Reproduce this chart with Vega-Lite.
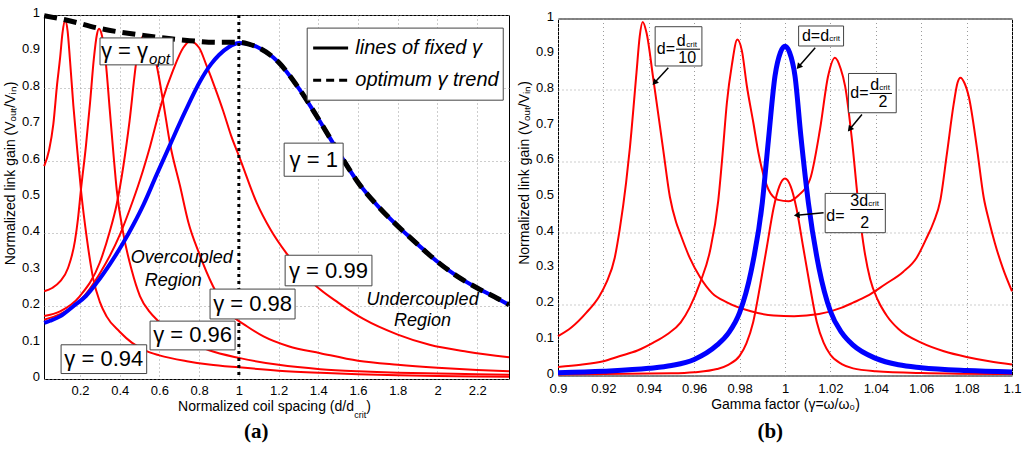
{
  "$schema": "https://vega.github.io/schema/vega-lite/v6.json",
  "padding": {"left": 2, "top": 5, "right": 2, "bottom": 5},
  "config": {
    "font": "Liberation Sans",
    "view": {"stroke": "#000", "strokeWidth": 1},
    "axis": {
      "grid": true, "gridColor": "#9a9a9a", "gridDash": [1, 3], "gridWidth": 1,
      "ticks": false, "domain": false, "labelFlush": false, "labelOverlap": false,
      "labelFontSize": 13, "labelColor": "#000", "labelPadding": 4,
      "titleFontSize": 14, "titleFontWeight": "normal", "titleColor": "#000", "titlePadding": 5
    },
    "axisX": {"titlePadding": 3, "labelPadding": 5},
    "axisY": {"labels": false, "titlePadding": 27}
  },
  "datasets": {
    "yt": [
      {"v":0,"t":"0"},{"v":0.1,"t":"0.1"},{"v":0.2,"t":"0.2"},{"v":0.3,"t":"0.3"},{"v":0.4,"t":"0.4"},{"v":0.5,"t":"0.5"},
      {"v":0.6,"t":"0.6"},{"v":0.7,"t":"0.7"},{"v":0.8,"t":"0.8"},{"v":0.9,"t":"0.9"},{"v":1,"t":"1"}
    ],
    "lc": [
      {"s":"g94","d":0.02,"g":0.585},{"s":"g94","d":0.045,"g":0.63},{"s":"g94","d":0.066,"g":0.70},{"s":"g94","d":0.085,"g":0.81},
      {"s":"g94","d":0.1,"g":0.882},{"s":"g94","d":0.112,"g":0.95},{"s":"g94","d":0.125,"g":0.987},{"s":"g94","d":0.138,"g":0.955},
      {"s":"g94","d":0.15,"g":0.875},{"s":"g94","d":0.167,"g":0.75},{"s":"g94","d":0.188,"g":0.62},{"s":"g94","d":0.205,"g":0.52},
      {"s":"g94","d":0.235,"g":0.385},{"s":"g94","d":0.267,"g":0.275},{"s":"g94","d":0.3,"g":0.212},{"s":"g94","d":0.334,"g":0.172},
      {"s":"g94","d":0.4,"g":0.13},{"s":"g94","d":0.461,"g":0.1},{"s":"g94","d":0.53,"g":0.078},{"s":"g94","d":0.6,"g":0.065},
      {"s":"g94","d":0.738,"g":0.049},{"s":"g94","d":0.85,"g":0.04},{"s":"g94","d":1.0,"g":0.032},{"s":"g94","d":1.2,"g":0.023},
      {"s":"g94","d":1.41,"g":0.017},{"s":"g94","d":1.6,"g":0.013},{"s":"g94","d":1.8,"g":0.01},{"s":"g94","d":2.0,"g":0.008},
      {"s":"g94","d":2.2,"g":0.007},{"s":"g94","d":2.36,"g":0.006},

      {"s":"g96","d":0.02,"g":0.241},{"s":"g96","d":0.06,"g":0.25},{"s":"g96","d":0.1,"g":0.268},{"s":"g96","d":0.14,"g":0.305},
      {"s":"g96","d":0.175,"g":0.38},{"s":"g96","d":0.19,"g":0.44},{"s":"g96","d":0.205,"g":0.52},{"s":"g96","d":0.23,"g":0.64},
      {"s":"g96","d":0.251,"g":0.76},{"s":"g96","d":0.27,"g":0.88},{"s":"g96","d":0.285,"g":0.945},{"s":"g96","d":0.296,"g":0.962},
      {"s":"g96","d":0.31,"g":0.945},{"s":"g96","d":0.33,"g":0.87},{"s":"g96","d":0.35,"g":0.74},{"s":"g96","d":0.37,"g":0.61},
      {"s":"g96","d":0.385,"g":0.52},{"s":"g96","d":0.418,"g":0.40},{"s":"g96","d":0.46,"g":0.30},{"s":"g96","d":0.502,"g":0.228},
      {"s":"g96","d":0.55,"g":0.185},{"s":"g96","d":0.587,"g":0.163},{"s":"g96","d":0.65,"g":0.135},{"s":"g96","d":0.75,"g":0.102},
      {"s":"g96","d":0.85,"g":0.079},{"s":"g96","d":1.0,"g":0.058},{"s":"g96","d":1.2,"g":0.039},{"s":"g96","d":1.41,"g":0.027},
      {"s":"g96","d":1.6,"g":0.021},{"s":"g96","d":1.8,"g":0.017},{"s":"g96","d":2.0,"g":0.015},{"s":"g96","d":2.2,"g":0.013},
      {"s":"g96","d":2.36,"g":0.012},

      {"s":"g98","d":0.02,"g":0.173},{"s":"g98","d":0.1,"g":0.186},{"s":"g98","d":0.2,"g":0.228},{"s":"g98","d":0.3,"g":0.32},
      {"s":"g98","d":0.35,"g":0.405},{"s":"g98","d":0.385,"g":0.48},{"s":"g98","d":0.42,"g":0.59},{"s":"g98","d":0.45,"g":0.71},
      {"s":"g98","d":0.486,"g":0.88},{"s":"g98","d":0.51,"g":0.935},{"s":"g98","d":0.528,"g":0.945},{"s":"g98","d":0.55,"g":0.93},
      {"s":"g98","d":0.57,"g":0.9},{"s":"g98","d":0.587,"g":0.86},{"s":"g98","d":0.62,"g":0.758},{"s":"g98","d":0.654,"g":0.645},
      {"s":"g98","d":0.704,"g":0.53},{"s":"g98","d":0.746,"g":0.43},{"s":"g98","d":0.8,"g":0.345},{"s":"g98","d":0.87,"g":0.255},
      {"s":"g98","d":0.965,"g":0.175},{"s":"g98","d":1.04,"g":0.145},{"s":"g98","d":1.124,"g":0.117},{"s":"g98","d":1.25,"g":0.09},
      {"s":"g98","d":1.41,"g":0.071},{"s":"g98","d":1.6,"g":0.05},{"s":"g98","d":1.8,"g":0.039},{"s":"g98","d":2.0,"g":0.031},
      {"s":"g98","d":2.2,"g":0.025},{"s":"g98","d":2.36,"g":0.021},

      {"s":"g99","d":0.02,"g":0.163},{"s":"g99","d":0.1,"g":0.178},{"s":"g99","d":0.2,"g":0.215},{"s":"g99","d":0.3,"g":0.29},
      {"s":"g99","d":0.4,"g":0.395},{"s":"g99","d":0.45,"g":0.465},{"s":"g99","d":0.503,"g":0.548},{"s":"g99","d":0.553,"g":0.639},
      {"s":"g99","d":0.612,"g":0.76},{"s":"g99","d":0.67,"g":0.85},{"s":"g99","d":0.72,"g":0.91},{"s":"g99","d":0.754,"g":0.928},
      {"s":"g99","d":0.8,"g":0.91},{"s":"g99","d":0.838,"g":0.86},{"s":"g99","d":0.88,"g":0.80},{"s":"g99","d":0.922,"g":0.735},
      {"s":"g99","d":0.96,"g":0.67},{"s":"g99","d":1.006,"g":0.605},{"s":"g99","d":1.09,"g":0.484},{"s":"g99","d":1.16,"g":0.41},
      {"s":"g99","d":1.24,"g":0.345},{"s":"g99","d":1.39,"g":0.255},{"s":"g99","d":1.5,"g":0.21},{"s":"g99","d":1.627,"g":0.165},
      {"s":"g99","d":1.8,"g":0.122},{"s":"g99","d":1.96,"g":0.094},{"s":"g99","d":2.15,"g":0.075},{"s":"g99","d":2.36,"g":0.06},

      {"s":"g1","d":0.02,"g":0.154},{"s":"g1","d":0.05,"g":0.16},{"s":"g1","d":0.1,"g":0.172},{"s":"g1","d":0.167,"g":0.2},
      {"s":"g1","d":0.23,"g":0.228},{"s":"g1","d":0.284,"g":0.264},{"s":"g1","d":0.35,"g":0.315},{"s":"g1","d":0.418,"g":0.374},
      {"s":"g1","d":0.47,"g":0.425},{"s":"g1","d":0.52,"g":0.479},{"s":"g1","d":0.585,"g":0.56},{"s":"g1","d":0.654,"g":0.644},
      {"s":"g1","d":0.73,"g":0.735},{"s":"g1","d":0.805,"g":0.818},{"s":"g1","d":0.86,"g":0.865},{"s":"g1","d":0.9,"g":0.89},
      {"s":"g1","d":0.95,"g":0.912},{"s":"g1","d":1.0,"g":0.923},{"s":"g1","d":1.05,"g":0.92},{"s":"g1","d":1.1,"g":0.91},
      {"s":"g1","d":1.2,"g":0.87},{"s":"g1","d":1.3,"g":0.80},{"s":"g1","d":1.4,"g":0.715},{"s":"g1","d":1.5,"g":0.625},
      {"s":"g1","d":1.6,"g":0.54},{"s":"g1","d":1.7,"g":0.475},{"s":"g1","d":1.8,"g":0.42},{"s":"g1","d":1.9,"g":0.37},
      {"s":"g1","d":2.0,"g":0.322},{"s":"g1","d":2.1,"g":0.282},{"s":"g1","d":2.2,"g":0.25},{"s":"g1","d":2.3,"g":0.222},
      {"s":"g1","d":2.36,"g":0.204},

      {"s":"trend","d":0.02,"g":0.998},{"s":"trend","d":0.125,"g":0.987},{"s":"trend","d":0.3,"g":0.963},{"s":"trend","d":0.52,"g":0.944},
      {"s":"trend","d":0.74,"g":0.93},{"s":"trend","d":0.9,"g":0.925},{"s":"trend","d":1.0,"g":0.925},{"s":"trend","d":1.05,"g":0.92},
      {"s":"trend","d":1.1,"g":0.91},{"s":"trend","d":1.2,"g":0.87},{"s":"trend","d":1.3,"g":0.80},{"s":"trend","d":1.4,"g":0.715},
      {"s":"trend","d":1.5,"g":0.625},{"s":"trend","d":1.6,"g":0.54},{"s":"trend","d":1.7,"g":0.475},{"s":"trend","d":1.8,"g":0.42},
      {"s":"trend","d":1.9,"g":0.37},{"s":"trend","d":2.0,"g":0.322},{"s":"trend","d":2.1,"g":0.282},{"s":"trend","d":2.2,"g":0.25},
      {"s":"trend","d":2.3,"g":0.222},{"s":"trend","d":2.36,"g":0.204}
    ],
    "rc": [
      {"s":"d10","w":0.9,"g":0.11},{"s":"d10","w":0.906,"g":0.135},{"s":"d10","w":0.9125,"g":0.176},{"s":"d10","w":0.918,"g":0.22},
      {"s":"d10","w":0.9213,"g":0.26},{"s":"d10","w":0.925,"g":0.33},{"s":"d10","w":0.9272,"g":0.41},{"s":"d10","w":0.93,"g":0.54},
      {"s":"d10","w":0.9317,"g":0.64},{"s":"d10","w":0.9346,"g":0.85},{"s":"d10","w":0.936,"g":0.95},{"s":"d10","w":0.9373,"g":0.99},
      {"s":"d10","w":0.939,"g":0.96},{"s":"d10","w":0.942,"g":0.83},{"s":"d10","w":0.9464,"g":0.63},{"s":"d10","w":0.9493,"g":0.50},
      {"s":"d10","w":0.952,"g":0.43},{"s":"d10","w":0.9537,"g":0.40},{"s":"d10","w":0.958,"g":0.33},{"s":"d10","w":0.9626,"g":0.275},
      {"s":"d10","w":0.968,"g":0.23},{"s":"d10","w":0.9744,"g":0.205},{"s":"d10","w":0.985,"g":0.18},{"s":"d10","w":0.995,"g":0.168},
      {"s":"d10","w":1.004,"g":0.166},{"s":"d10","w":1.015,"g":0.172},{"s":"d10","w":1.025,"g":0.19},{"s":"d10","w":1.03,"g":0.204},
      {"s":"d10","w":1.036,"g":0.222},{"s":"d10","w":1.044,"g":0.255},{"s":"d10","w":1.052,"g":0.29},{"s":"d10","w":1.058,"g":0.33},
      {"s":"d10","w":1.062,"g":0.38},{"s":"d10","w":1.0655,"g":0.43},{"s":"d10","w":1.0684,"g":0.49},{"s":"d10","w":1.0713,"g":0.62},
      {"s":"d10","w":1.0743,"g":0.76},{"s":"d10","w":1.076,"g":0.82},{"s":"d10","w":1.0773,"g":0.834},{"s":"d10","w":1.079,"g":0.82},
      {"s":"d10","w":1.081,"g":0.78},{"s":"d10","w":1.0845,"g":0.64},{"s":"d10","w":1.0875,"g":0.50},{"s":"d10","w":1.09,"g":0.43},
      {"s":"d10","w":1.0925,"g":0.37},{"s":"d10","w":1.096,"g":0.30},{"s":"d10","w":1.1,"g":0.236},

      {"s":"d2","w":0.9,"g":0.024},{"s":"d2","w":0.91,"g":0.03},{"s":"d2","w":0.92,"g":0.04},{"s":"d2","w":0.927,"g":0.054},
      {"s":"d2","w":0.935,"g":0.07},{"s":"d2","w":0.942,"g":0.092},{"s":"d2","w":0.948,"g":0.115},{"s":"d2","w":0.954,"g":0.148},
      {"s":"d2","w":0.958,"g":0.19},{"s":"d2","w":0.9626,"g":0.26},{"s":"d2","w":0.967,"g":0.35},{"s":"d2","w":0.9706,"g":0.49},
      {"s":"d2","w":0.9725,"g":0.62},{"s":"d2","w":0.9744,"g":0.764},{"s":"d2","w":0.9766,"g":0.87},{"s":"d2","w":0.979,"g":0.941},
      {"s":"d2","w":0.981,"g":0.91},{"s":"d2","w":0.9832,"g":0.811},{"s":"d2","w":0.986,"g":0.71},{"s":"d2","w":0.9883,"g":0.624},
      {"s":"d2","w":0.9927,"g":0.521},{"s":"d2","w":0.997,"g":0.492},{"s":"d2","w":1.0015,"g":0.488},{"s":"d2","w":1.006,"g":0.505},
      {"s":"d2","w":1.011,"g":0.549},{"s":"d2","w":1.0154,"g":0.689},{"s":"d2","w":1.019,"g":0.839},{"s":"d2","w":1.022,"g":0.89},
      {"s":"d2","w":1.0245,"g":0.86},{"s":"d2","w":1.0265,"g":0.81},{"s":"d2","w":1.0295,"g":0.66},{"s":"d2","w":1.032,"g":0.50},
      {"s":"d2","w":1.0345,"g":0.37},{"s":"d2","w":1.0375,"g":0.27},{"s":"d2","w":1.041,"g":0.21},{"s":"d2","w":1.045,"g":0.166},
      {"s":"d2","w":1.05,"g":0.13},{"s":"d2","w":1.06,"g":0.092},{"s":"d2","w":1.07,"g":0.068},{"s":"d2","w":1.08,"g":0.052},
      {"s":"d2","w":1.09,"g":0.04},{"s":"d2","w":1.1,"g":0.031},

      {"s":"d32","w":0.9,"g":0.003},{"s":"d32","w":0.95,"g":0.006},{"s":"d32","w":0.96,"g":0.009},{"s":"d32","w":0.97,"g":0.018},
      {"s":"d32","w":0.975,"g":0.03},{"s":"d32","w":0.98,"g":0.055},{"s":"d32","w":0.983,"g":0.09},{"s":"d32","w":0.986,"g":0.15},
      {"s":"d32","w":0.989,"g":0.25},{"s":"d32","w":0.992,"g":0.36},{"s":"d32","w":0.995,"g":0.47},{"s":"d32","w":0.9975,"g":0.53},
      {"s":"d32","w":1.0,"g":0.552},{"s":"d32","w":1.0025,"g":0.53},{"s":"d32","w":1.005,"g":0.47},{"s":"d32","w":1.008,"g":0.36},
      {"s":"d32","w":1.011,"g":0.25},{"s":"d32","w":1.014,"g":0.15},{"s":"d32","w":1.017,"g":0.092},{"s":"d32","w":1.02,"g":0.058},
      {"s":"d32","w":1.025,"g":0.032},{"s":"d32","w":1.03,"g":0.02},{"s":"d32","w":1.04,"g":0.012},{"s":"d32","w":1.06,"g":0.007},
      {"s":"d32","w":1.1,"g":0.004},

      {"s":"d1","w":0.9,"g":0.008},{"s":"d1","w":0.92,"g":0.012},{"s":"d1","w":0.94,"g":0.02},{"s":"d1","w":0.95,"g":0.028},
      {"s":"d1","w":0.96,"g":0.045},{"s":"d1","w":0.97,"g":0.085},{"s":"d1","w":0.975,"g":0.118},{"s":"d1","w":0.98,"g":0.176},
      {"s":"d1","w":0.985,"g":0.29},{"s":"d1","w":0.99,"g":0.484},{"s":"d1","w":0.9927,"g":0.66},{"s":"d1","w":0.9956,"g":0.839},
      {"s":"d1","w":0.998,"g":0.905},{"s":"d1","w":1.0,"g":0.922},{"s":"d1","w":1.002,"g":0.905},{"s":"d1","w":1.0044,"g":0.839},
      {"s":"d1","w":1.007,"g":0.67},{"s":"d1","w":1.0103,"g":0.484},{"s":"d1","w":1.015,"g":0.30},{"s":"d1","w":1.02,"g":0.18},
      {"s":"d1","w":1.025,"g":0.12},{"s":"d1","w":1.03,"g":0.085},{"s":"d1","w":1.04,"g":0.048},{"s":"d1","w":1.05,"g":0.03},
      {"s":"d1","w":1.06,"g":0.022},{"s":"d1","w":1.08,"g":0.014},{"s":"d1","w":1.1,"g":0.01}
    ],
    "lbox": [
      {"x0":0.301,"x1":0.669,"y0":0.863,"y1":0.937},
      {"x0":1.228,"x1":1.525,"y0":0.557,"y1":0.648},
      {"x0":1.233,"x1":1.670,"y0":0.256,"y1":0.340},
      {"x0":0.855,"x1":1.283,"y0":0.165,"y1":0.247},
      {"x0":0.553,"x1":0.981,"y0":0.080,"y1":0.159},
      {"x0":0.105,"x1":0.536,"y0":0.015,"y1":0.094},
      {"x0":1.344,"x1":2.331,"y0":0.766,"y1":0.964}
    ],
    "ltxt": [
      {"x":1.377,"y":0.602,"t":"γ = 1"},
      {"x":1.451,"y":0.298,"t":"γ = 0.99"},
      {"x":1.069,"y":0.206,"t":"γ = 0.98"},
      {"x":0.767,"y":0.12,"t":"γ = 0.96"},
      {"x":0.32,"y":0.054,"t":"γ = 0.94"}
    ],
    "lreg": [
      {"x":0.713,"y":0.332,"t":"Overcoupled"},
      {"x":0.67,"y":0.268,"t":"Region"},
      {"x":1.925,"y":0.218,"t":"Undercoupled"},
      {"x":1.925,"y":0.158,"t":"Region"}
    ],
    "rbox": [
      {"x0":0.9428,"x1":0.9634,"y0":0.867,"y1":0.977},
      {"x0":1.006,"x1":1.0258,"y0":0.923,"y1":0.979},
      {"x0":1.028,"x1":1.049,"y0":0.736,"y1":0.846},
      {"x0":1.0177,"x1":1.0442,"y0":0.40,"y1":0.51}
    ],
    "rtxt": [
      {"x":0.9435,"y":0.914,"t":"d="},
      {"x":0.9523,"y":0.936,"t":"d"},
      {"x":0.9530,"y":0.89,"t":"10"},
      {"x":1.00745,"y":0.951,"t":"d=d"},
      {"x":1.02875,"y":0.79,"t":"d="},
      {"x":1.0376,"y":0.813,"t":"d"},
      {"x":1.0412,"y":0.765,"t":"2"},
      {"x":1.01817,"y":0.4465,"t":"d="},
      {"x":1.02875,"y":0.49,"t":"3d"},
      {"x":1.0332,"y":0.428,"t":"2"}
    ],
    "rsub": [
      {"x":0.9565,"y":0.927},
      {"x":1.0195,"y":0.942},
      {"x":1.0415,"y":0.804},
      {"x":1.0367,"y":0.481}
    ],
    "rbar": [
      {"x":0.952,"x2":0.9626,"y":0.914},
      {"x":1.0373,"x2":1.0471,"y":0.79},
      {"x":1.0288,"x2":1.0433,"y":0.465}
    ],
    "rarr": [
      {"x":0.9486,"y":0.862,"x2":0.9425,"y2":0.82,"a":222},
      {"x":1.0133,"y":0.918,"x2":1.006,"y2":0.865,"a":220},
      {"x":1.0339,"y":0.731,"x2":1.0285,"y2":0.69,"a":219},
      {"x":1.017,"y":0.456,"x2":1.0052,"y2":0.449,"a":265}
    ]
  },
  "spacing": 49,
  "bounds": "flush",
  "center": true,
  "hconcat": [
    {
      "width": 465,
      "height": 364,
      "layer": [
        {
          "data": {"name": "lc"},
          "transform": [{"filter": "datum.s != 'g1' && datum.s != 'trend'"}],
          "mark": {"type": "line", "color": "#ff0000", "strokeWidth": 2, "interpolate": "monotone"},
          "encoding": {
            "x": {"field": "d", "type": "quantitative",
                  "scale": {"domain": [0.019, 2.36], "nice": false, "zero": false},
                  "axis": {"title": null, "values": [0.2, 0.4, 0.6, 0.8, 1, 1.2, 1.4, 1.6, 1.8, 2, 2.2], "format": "~g"}},
            "y": {"field": "g", "type": "quantitative",
                  "scale": {"domain": [0, 1], "nice": false},
                  "axis": {"title": "Normalized link gain (Vₒᵤₜ/Vᵢₙ)", "titleY": 158,
                           "values": [0, 0.1, 0.2, 0.3, 0.4, 0.5, 0.6, 0.7, 0.8, 0.9, 1]}},
            "detail": {"field": "s"}
          }
        },
        {
          "data": {"name": "yt"},
          "mark": {"type": "text", "align": "right", "baseline": "middle", "dx": -4, "dy": -2, "fontSize": 13, "color": "#000"},
          "encoding": {
            "x": {"datum": 0.019},
            "y": {"field": "v", "type": "quantitative"},
            "text": {"field": "t"}
          }
        },
        {
          "data": {"name": "lc"},
          "transform": [{"filter": "datum.s == 'g1'"}],
          "mark": {"type": "line", "color": "#0000ff", "strokeWidth": 4, "interpolate": "monotone"},
          "encoding": {
            "x": {"field": "d", "type": "quantitative"},
            "y": {"field": "g", "type": "quantitative"}
          }
        },
        {
          "data": {"values": [{}]},
          "mark": {"type": "rule", "color": "#000", "strokeWidth": 3, "strokeDash": [3, 4]},
          "encoding": {"x": {"datum": 1}}
        },
        {
          "data": {"name": "lc"},
          "transform": [{"filter": "datum.s == 'trend'"}],
          "mark": {"type": "line", "color": "#000", "strokeWidth": 5, "strokeDash": [13, 7], "interpolate": "monotone"},
          "encoding": {
            "x": {"field": "d", "type": "quantitative"},
            "y": {"field": "g", "type": "quantitative"}
          }
        },
        {
          "data": {"name": "lbox"},
          "mark": {"type": "rect", "fill": "#fff", "stroke": "#444", "strokeWidth": 1},
          "encoding": {
            "x": {"field": "x0", "type": "quantitative"}, "x2": {"field": "x1"},
            "y": {"field": "y0", "type": "quantitative"}, "y2": {"field": "y1"}
          }
        },
        {
          "data": {"name": "ltxt"},
          "mark": {"type": "text", "fontSize": 22, "align": "center", "baseline": "middle", "color": "#000"},
          "encoding": {
            "x": {"field": "x", "type": "quantitative"},
            "y": {"field": "y", "type": "quantitative"},
            "text": {"field": "t"}
          }
        },
        {
          "data": {"values": [{}]},
          "mark": {"type": "text", "fontSize": 22, "align": "left", "baseline": "middle", "color": "#000"},
          "encoding": {"x": {"datum": 0.306}, "y": {"datum": 0.9}, "text": {"value": "γ = γ"}}
        },
        {
          "data": {"values": [{}]},
          "mark": {"type": "text", "fontSize": 15, "fontStyle": "italic", "align": "left", "baseline": "middle", "color": "#000"},
          "encoding": {"x": {"datum": 0.548}, "y": {"datum": 0.878}, "text": {"value": "opt"}}
        },
        {
          "data": {"values": [{}]},
          "mark": {"type": "rule", "color": "#000", "strokeWidth": 3},
          "encoding": {"x": {"datum": 1.374}, "x2": {"datum": 1.55}, "y": {"datum": 0.909}}
        },
        {
          "data": {"values": [{}]},
          "mark": {"type": "rule", "color": "#000", "strokeWidth": 3, "strokeDash": [8, 5]},
          "encoding": {"x": {"datum": 1.374}, "x2": {"datum": 1.55}, "y": {"datum": 0.821}}
        },
        {
          "data": {"values": [{"y": 0.909, "t": "lines of fixed γ"}, {"y": 0.821, "t": "optimum γ trend"}]},
          "mark": {"type": "text", "fontSize": 20, "fontStyle": "italic", "align": "left", "baseline": "middle", "color": "#000"},
          "encoding": {
            "x": {"datum": 1.586},
            "y": {"field": "y", "type": "quantitative"},
            "text": {"field": "t"}
          }
        },
        {
          "data": {"name": "lreg"},
          "mark": {"type": "text", "fontSize": 18, "fontStyle": "italic", "align": "center", "baseline": "middle", "color": "#000"},
          "encoding": {
            "x": {"field": "x", "type": "quantitative"},
            "y": {"field": "y", "type": "quantitative"},
            "text": {"field": "t"}
          }
        },
        {
          "data": {"values": [{}]},
          "mark": {"type": "text", "fontSize": 14, "align": "left", "baseline": "middle", "color": "#000"},
          "encoding": {"x": {"datum": 0.694}, "y": {"datum": -0.076}, "text": {"value": "Normalized coil spacing (d/d"}}
        },
        {
          "data": {"values": [{}]},
          "mark": {"type": "text", "fontSize": 9, "align": "left", "baseline": "middle", "color": "#000"},
          "encoding": {"x": {"datum": 1.581}, "y": {"datum": -0.098}, "text": {"value": "crit"}}
        },
        {
          "data": {"values": [{}]},
          "mark": {"type": "text", "fontSize": 14, "align": "left", "baseline": "middle", "color": "#000"},
          "encoding": {"x": {"datum": 1.641}, "y": {"datum": -0.076}, "text": {"value": ")"}}
        },
        {
          "data": {"values": [{}]},
          "mark": {"type": "text", "font": "Liberation Serif", "fontSize": 21, "fontWeight": "bold", "align": "center", "baseline": "middle", "color": "#000"},
          "encoding": {"x": {"datum": 1.087}, "y": {"datum": -0.146}, "text": {"value": "(a)"}}
        }
      ]
    },
    {
      "width": 454,
      "height": 357,
      "layer": [
        {
          "data": {"name": "rc"},
          "transform": [{"filter": "datum.s != 'd1'"}],
          "mark": {"type": "line", "color": "#ff0000", "strokeWidth": 2, "interpolate": "monotone"},
          "encoding": {
            "x": {"field": "w", "type": "quantitative",
                  "scale": {"domain": [0.9, 1.1], "nice": false, "zero": false},
                  "axis": {"title": "Gamma factor (γ=ω/ω₀)", "labelPadding": 7, "titlePadding": 2,
                           "values": [0.9, 0.92, 0.94, 0.96, 0.98, 1, 1.02, 1.04, 1.06, 1.08, 1.1], "format": "~g"}},
            "y": {"field": "g", "type": "quantitative",
                  "scale": {"domain": [0, 1], "nice": false},
                  "axis": {"title": "Normalized link gain (Vₒᵤₜ/Vᵢₙ)", "titleY": 154,
                           "values": [0, 0.1, 0.2, 0.3, 0.4, 0.5, 0.6, 0.7, 0.8, 0.9, 1]}},
            "detail": {"field": "s"}
          }
        },
        {
          "data": {"name": "yt"},
          "mark": {"type": "text", "align": "right", "baseline": "middle", "dx": -4, "dy": -2, "fontSize": 13, "color": "#000"},
          "encoding": {
            "x": {"datum": 0.9},
            "y": {"field": "v", "type": "quantitative"},
            "text": {"field": "t"}
          }
        },
        {
          "data": {"name": "rc"},
          "transform": [{"filter": "datum.s == 'd1'"}],
          "mark": {"type": "line", "color": "#0000ff", "strokeWidth": 5, "interpolate": "monotone"},
          "encoding": {
            "x": {"field": "w", "type": "quantitative"},
            "y": {"field": "g", "type": "quantitative"}
          }
        },
        {
          "data": {"name": "rarr"},
          "mark": {"type": "rule", "color": "#000", "strokeWidth": 1.5},
          "encoding": {
            "x": {"field": "x", "type": "quantitative"}, "y": {"field": "y", "type": "quantitative"},
            "x2": {"field": "x2"}, "y2": {"field": "y2"}
          }
        },
        {
          "data": {"name": "rarr"},
          "mark": {"type": "point", "shape": "triangle-up", "filled": true, "color": "#000", "size": 45, "opacity": 1},
          "encoding": {
            "x": {"field": "x2", "type": "quantitative"}, "y": {"field": "y2", "type": "quantitative"},
            "angle": {"field": "a", "type": "quantitative", "scale": null}
          }
        },
        {
          "data": {"name": "rbox"},
          "mark": {"type": "rect", "fill": "#fff", "stroke": "#444", "strokeWidth": 1},
          "encoding": {
            "x": {"field": "x0", "type": "quantitative"}, "x2": {"field": "x1"},
            "y": {"field": "y0", "type": "quantitative"}, "y2": {"field": "y1"}
          }
        },
        {
          "data": {"name": "rtxt"},
          "mark": {"type": "text", "fontSize": 16, "align": "left", "baseline": "middle", "color": "#000"},
          "encoding": {
            "x": {"field": "x", "type": "quantitative"},
            "y": {"field": "y", "type": "quantitative"},
            "text": {"field": "t"}
          }
        },
        {
          "data": {"name": "rsub"},
          "mark": {"type": "text", "fontSize": 8, "align": "left", "baseline": "middle", "color": "#000", "text": "crit"},
          "encoding": {
            "x": {"field": "x", "type": "quantitative"},
            "y": {"field": "y", "type": "quantitative"}
          }
        },
        {
          "data": {"name": "rbar"},
          "mark": {"type": "rule", "color": "#000", "strokeWidth": 1},
          "encoding": {
            "x": {"field": "x", "type": "quantitative"}, "x2": {"field": "x2"},
            "y": {"field": "y", "type": "quantitative"}
          }
        },
        {
          "data": {"values": [{}]},
          "mark": {"type": "text", "font": "Liberation Serif", "fontSize": 21, "fontWeight": "bold", "align": "center", "baseline": "middle", "color": "#000"},
          "encoding": {"x": {"datum": 0.9935}, "y": {"datum": -0.158}, "text": {"value": "(b)"}}
        }
      ]
    }
  ]
}
